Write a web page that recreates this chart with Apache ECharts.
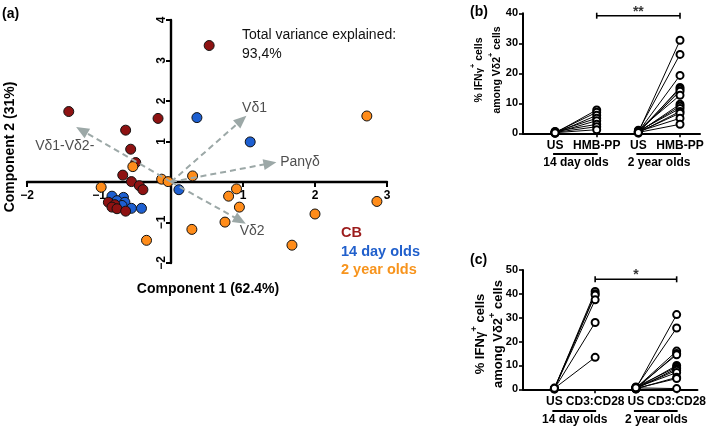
<!DOCTYPE html>
<html><head><meta charset="utf-8">
<script src="https://cdn.jsdelivr.net/npm/echarts@6/dist/echarts.min.js"></script>
<style>html,body{margin:0;padding:0;background:#fff}#c{width:709px;height:426px}</style>
</head><body><div id="c"></div>
<script>
// ---------- Panel (a): PCA scores ----------
const cbScores = [[0.53,3.37],[-1.42,1.74],[-0.18,1.57],[-0.63,1.28],[-0.56,0.81],[-0.49,0.48],[-0.67,0.17],[-0.55,0.01],[-0.44,-0.09],[-0.39,-0.19],[-0.87,-0.50],[-0.78,-0.56],[-0.82,-0.62],[-0.75,-0.66],[-0.63,-0.72]];
const day14Scores = [[0.36,1.59],[1.10,0.99],[0.11,-0.19],[-0.82,-0.35],[-0.66,-0.38],[-0.75,-0.46],[-0.64,-0.50],[-0.68,-0.58],[-0.55,-0.65],[-0.41,-0.65]];
const year2Scores = [[-0.53,0.38],[-0.97,-0.13],[-0.13,0.07],[-0.04,0.01],[0.30,0.15],[0.91,-0.17],[0.80,-0.35],[0.95,-0.62],[0.75,-0.99],[0.29,-1.17],[-0.34,-1.44],[2.00,-0.79],[1.68,-1.56],[2.72,1.63],[2.86,-0.48]];
const loadingNames = ['Vδ1','Panγδ','Vδ1-Vδ2-','Vδ2'];
const loadingVectors = [[0.98,1.53],[1.375,0.46],[-1.24,1.28],[0.96,-0.95]];
const groupNames = ['CB','14 day olds','2 year olds'];
const groupColors = ['#8e1212','#1d5fd1','#ff8c1a'];
const legendColors = ['#9c1c1c','#2160cc','#f7941d'];
const pcaX = { min: -2, max: 3 };
const pcaY = { min: -2, max: 4 };

// ---------- Panel (b): HMB-PP ----------
const bCategories = ['US','HMB-PP','US','HMB-PP'];
const ageGroups = ['14 day olds','2 year olds'];
const b14US  = [0.1,0.3,0.0,0.5,0.2,0.6,0.3,0.2];
const b14HMB = [7.8,7.0,6.0,5.0,4.2,3.0,2.2,1.2];
const b2yUS  = [0.3,0.8,0.5,0.1,0.6,0.4,1.0,0.3,0.5,0.7,0.2,0.4,0.6,0.3];
const b2yHMB = [31,26.3,19.3,15.3,14.7,14,12.7,9.7,9,8.3,7.3,6.7,5,3];
const bSig = '**';

// ---------- Panel (c): CD3:CD28 ----------
const cCategories = ['US','CD3:CD28','US','CD3:CD28'];
const c14US = [0.3,0.1,0.5,0.3,0.2,0.4];
const c14CD = [41,40,39.5,37.5,28,13.4];
const c2yUS = [0.3,0.8,0.5,0.1,0.6,0.4,1.0,0.3,0.5,0.7,0.2,0.4,0.6];
const c2yCD = [31.3,25.7,16,15,14.5,10,9.3,8.7,8,7,5,4.5,0.3];
const cSig = '*';

const FONT = "'Liberation Sans', Arial, Helvetica, sans-serif";
const chart = echarts.init(document.getElementById('c'));

const gridA = { left: 27, top: 20, width: 360, height: 243 };
// shift axes so they cross at the origin
const xAxisShift = -gridA.height * (0 - pcaY.min) / (pcaY.max - pcaY.min);
const yAxisShift = -gridA.width * (0 - pcaX.min) / (pcaX.max - pcaX.min);

function pairSeries(idx, xa, xb, us, st) {
  return us.map((u, i) => ({
    type: 'line', xAxisIndex: idx, yAxisIndex: idx, clip: false, silent: true, animation: false,
    data: [[xa, u], [xb, st[i]]],
    symbol: 'emptyCircle', symbolSize: 7,
    lineStyle: { color: '#000', width: 1 },
    itemStyle: { color: '#000', borderColor: '#000', borderWidth: 1.5 }
  }));
}
function sigSeries(idx, y, ys, txt) {
  return [{
    type: 'line', xAxisIndex: idx, yAxisIndex: idx, clip: false, silent: true, animation: false,
    data: [[2, y], [4, y]], symbol: 'rect', symbolSize: [1.6, 6],
    lineStyle: { color: '#000', width: 1.6 }, itemStyle: { color: '#000' }
  }, {
    type: 'scatter', xAxisIndex: idx, yAxisIndex: idx, clip: false, silent: true, animation: false,
    data: [[3, ys]], symbolSize: 0,
    label: { show: true, position: 'inside', formatter: txt, fontFamily: FONT, fontWeight: 'bold', fontSize: 14, color: '#000' }
  }];
}
const tickStyle = { show: true, length: 4, lineStyle: { color: '#000', width: 1.6 } };
const labelOffsets = [[13,-12],[30,-1.5],[-17,16],[12,11]];
const minusFmt = v => v === 0 ? '' : String(v).replace('-', '\u2212');

const option = {
  animation: false,
  grid: [
    gridA,
    { left: 523, top: 13.3, width: 177, height: 120 },
    { left: 523, top: 270, width: 178, height: 119.3 }
  ],
  xAxis: [
    { gridIndex: 0, type: 'value', min: pcaX.min, max: pcaX.max, interval: 1, position: 'bottom', offset: xAxisShift,
      axisLine: { show: true, onZero: false, lineStyle: { color: '#000', width: 2.4 } },
      axisTick: { show: true, length: 5, lineStyle: { color: '#000', width: 2 } },
      axisLabel: { margin: 8, fontFamily: FONT, fontWeight: 'bold', fontSize: 12, color: '#000', formatter: minusFmt },
      splitLine: { show: false } },
    { gridIndex: 1, type: 'value', min: 0.23, max: 4.48, axisLine: { show: true, lineStyle: { color: '#000', width: 2 } },
      axisTick: Object.assign({ customValues: [1,2,3,4] }, tickStyle),
      axisLabel: { customValues: [1,2,3,4], margin: 6, fontFamily: FONT, fontWeight: 'bold', fontSize: 12, color: '#000',
        formatter: v => bCategories[Math.round(v) - 1] },
      splitLine: { show: false } },
    { gridIndex: 2, type: 'value', min: 0.23, max: 4.51, axisLine: { show: true, lineStyle: { color: '#000', width: 2 } },
      axisTick: Object.assign({ customValues: [1,2,3,4] }, tickStyle),
      axisLabel: { customValues: [1,2,3,4], margin: 6, fontFamily: FONT, fontWeight: 'bold', fontSize: 12, color: '#000',
        formatter: v => cCategories[Math.round(v) - 1] },
      splitLine: { show: false } }
  ],
  yAxis: [
    { gridIndex: 0, type: 'value', min: pcaY.min, max: pcaY.max, interval: 1, position: 'left', offset: yAxisShift,
      axisLine: { show: true, onZero: false, lineStyle: { color: '#000', width: 2.4 } },
      axisTick: { show: true, length: 5, lineStyle: { color: '#000', width: 2 } },
      axisLabel: { margin: 3, rotate: 90, fontFamily: FONT, fontWeight: 'bold', fontSize: 12, color: '#000', formatter: minusFmt },
      splitLine: { show: false } },
    { gridIndex: 1, type: 'value', min: 0, max: 40, interval: 10, axisLine: { show: true, lineStyle: { color: '#000', width: 2 } },
      axisTick: tickStyle,
      axisLabel: { margin: 5, fontFamily: FONT, fontWeight: 'bold', fontSize: 11, color: '#000' },
      splitLine: { show: false } },
    { gridIndex: 2, type: 'value', min: 0, max: 50, interval: 10, axisLine: { show: true, lineStyle: { color: '#000', width: 2 } },
      axisTick: tickStyle,
      axisLabel: { margin: 5, fontFamily: FONT, fontWeight: 'bold', fontSize: 11, color: '#000' },
      splitLine: { show: false } }
  ],
  series: [
    { type: 'scatter', name: groupNames[1], data: day14Scores, symbolSize: 10, z: 3,
      itemStyle: { color: groupColors[1], borderColor: '#111', borderWidth: 1, opacity: 1 } },
    { type: 'scatter', name: groupNames[0], data: cbScores, symbolSize: 10, z: 3,
      itemStyle: { color: groupColors[0], borderColor: '#111', borderWidth: 1, opacity: 1 } },
    { type: 'scatter', name: groupNames[2], data: year2Scores, symbolSize: 10, z: 3,
      itemStyle: { color: groupColors[2], borderColor: '#111', borderWidth: 1, opacity: 1 } },
    { type: 'scatter', name: 'loadings', data: loadingVectors.map((v, i) => ({
        value: v, label: { offset: labelOffsets[i], formatter: loadingNames[i] } })),
      symbolSize: 0, z: 5, silent: true,
      label: { show: true, position: 'inside', fontFamily: FONT, fontSize: 14, color: '#222' },
      markLine: { silent: true, symbol: ['none', 'triangle'], symbolSize: [11, 13], precision: 4,
        label: { show: false },
        lineStyle: { color: '#9ca8a7', width: 2, type: [6, 4] },
        data: loadingVectors.map(v => [{ coord: [0, 0] }, { coord: v }]) } },
    ...pairSeries(1, 1, 2, b14US, b14HMB),
    ...pairSeries(1, 3, 4, b2yUS, b2yHMB),
    ...sigSeries(1, 39.2, 40.3, bSig),
    ...pairSeries(2, 1, 2, c14US, c14CD),
    ...pairSeries(2, 3, 4, c2yUS, c2yCD),
    ...sigSeries(2, 46.1, 48, cSig)
  ]
};
chart.setOption(option);

// ---------- annotations (text + group brackets computed from axes) ----------
function txt(x, y, text, opts) {
  return Object.assign({ type: 'text', x: x, y: y, silent: true,
    style: Object.assign({ text: text, fontFamily: FONT, fill: '#000', align: 'left', verticalAlign: 'middle' }, opts || {}) });
}
const g = [];
g.push(txt(2, 14, '(a)', { fontSize: 14, fontWeight: 'bold' }));
g.push(txt(470, 12, '(b)', { fontSize: 14, fontWeight: 'bold' }));
g.push(txt(470, 260, '(c)', { fontSize: 14, fontWeight: 'bold' }));
g.push(txt(242, 35, 'Total variance explained:', { fontSize: 14, fill: '#111' }));
g.push(txt(242, 54, '93,4%', { fontSize: 14, fill: '#111' }));
g.push(txt(208, 289, 'Component 1 (62.4%)', { fontSize: 14, fontWeight: 'bold', align: 'center' }));
g.push(Object.assign(txt(10, 147, 'Component 2 (31%)', { fontSize: 14, fontWeight: 'bold', align: 'center' }), { rotation: Math.PI / 2 }));
groupNames.forEach((n, i) => g.push(txt(341, 233 + i * 18.5, n, { fontSize: 14.5, fontWeight: 'bold', fill: legendColors[i] })));

function ylab(x1, x2, y, fs) {
  const rich = {
    n: { fontSize: fs, fontWeight: 'bold', fontFamily: FONT, fill: '#000', lineHeight: fs + 4, verticalAlign: 'bottom' },
    g: { fontSize: fs - 1, fontWeight: 'bold', fontFamily: FONT, fill: '#000', lineHeight: fs + 4, verticalAlign: 'bottom' },
    s: { fontSize: fs * 0.7, fontWeight: 'bold', fontFamily: FONT, fill: '#000', lineHeight: fs + 4, verticalAlign: 'top' }
  };
  g.push({ type: 'text', x: x1, y: y, rotation: Math.PI / 2, silent: true,
    style: { text: '{n|% IFN}{g|γ}{s|+}{n| cells}', rich: rich, align: 'center', verticalAlign: 'middle' } });
  g.push({ type: 'text', x: x2, y: y, rotation: Math.PI / 2, silent: true,
    style: { text: '{n|among Vδ2}{s|+}{n| cells}', rich: rich, align: 'center', verticalAlign: 'middle' } });
}
ylab(477, 495, 70, 10.5);
ylab(478, 496, 334, 13);

[[1, 154, 163], [2, 411, 420]].forEach(([gi, ly, ty]) => {
  [[1, 2], [3, 4]].forEach(([a, b], k) => {
    const pa = chart.convertToPixel({ gridIndex: gi }, [a, 0]);
    const pb = chart.convertToPixel({ gridIndex: gi }, [b, 0]);
    g.push({ type: 'line', silent: true, shape: { x1: pa[0] - 2, y1: ly, x2: pb[0] + 1, y2: ly },
      style: { stroke: '#000', lineWidth: 2 } });
    g.push(txt((pa[0] + pb[0]) / 2, ty, ageGroups[k], { fontSize: 12, fontWeight: 'bold', align: 'center' }));
  });
});
chart.setOption({ graphic: g });
</script>
</body></html>
